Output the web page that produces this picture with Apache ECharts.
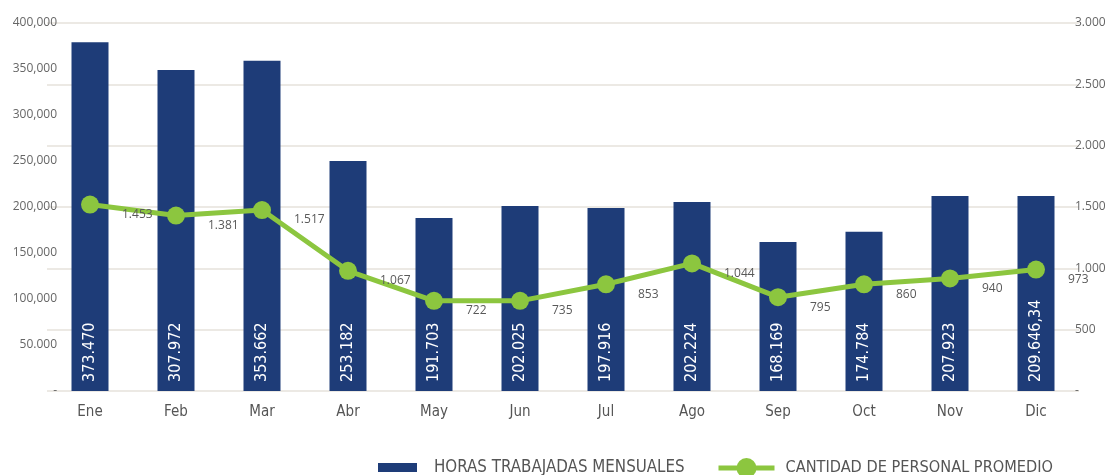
<!DOCTYPE html>
<html>
<head>
<meta charset="utf-8">
<style>
  html, body { margin: 0; padding: 0; background: #fff; }
  #chart { width: 1111px; height: 475px; }
</style>
<script src="https://cdn.jsdelivr.net/npm/echarts@6/dist/echarts.min.js"></script>
</head>
<body>
<div id="chart"></div>
<script>
// meses
const categories = ['Ene', 'Feb', 'Mar', 'Abr', 'May', 'Jun', 'Jul', 'Ago', 'Sep', 'Oct', 'Nov', 'Dic']

// alturas de las barras (eje izquierdo)
const horasValues = [379000, 349000, 359000, 250000, 188000, 201000, 199000, 205500, 162000, 173000, 212000, 212000]
// textos que aparecen dentro de las barras
const horasLabels = ['373.470', '307.972', '353.662', '253.182', '191.703', '202.025', '197.916', '202.224', '168.169', '174.784', '207.923', '209.646,34']

// puntos de la linea (eje derecho)
const personalValues = [1520, 1430, 1475, 980, 735, 735, 870, 1040, 765, 870, 918, 990]
// textos junto a los puntos
const personalLabels = ['1.453', '1.381', '1.517', '1.067', '722', '735', '853', '1.044', '795', '860', '940', '973']

// etiquetas de los ejes
const leftTicks = ['-', '50.000', '100,000', '150,000', '200,000', '250,000', '300,000', '350,000', '400,000']
const rightTicks = ['-', '500', '1.000', '1.500', '2.000', '2.500', '3.000']

const BAR_COLOR = '#1e3c78'
const LINE_COLOR = '#8cc63f'
// fuente condensada: DejaVu Sans con font-stretch condensed
const NARROW = '"DejaVu Sans", sans-serif'
const CONDENSED = 'condensed'
const SANS = '"Open Sans", "Noto Sans", sans-serif'

const chart = echarts.init(document.getElementById('chart'), null, { renderer: 'canvas' })

chart.setOption({
  animation: false,
  backgroundColor: '#fff',
  grid: { left: 47, right: 32, top: 23, bottom: 84 },
  legend: [
    {
      left: 373,
      top: 454,
      textStyle: { fontFamily: NARROW, fontWeight: CONDENSED, fontSize: 16.8, color: '#555', padding: [0, 0, 0, 12] },
      data: [{ name: 'HORAS TRABAJADAS MENSUALES', icon: 'rect', itemStyle: { color: BAR_COLOR } }],
      itemWidth: 39,
      itemHeight: 9,
    },
    {
      left: 711,
      top: 453,
      textStyle: { fontFamily: NARROW, fontWeight: CONDENSED, fontSize: 16.2, color: '#555', padding: [0, 0, 0, 6] },
      data: [{ name: 'CANTIDAD DE PERSONAL PROMEDIO' }],
      itemWidth: 56,
      itemHeight: 25,
      lineStyle: { width: 5 },
    },
  ],
  xAxis: {
    type: 'category',
    data: categories,
    axisLine: { show: false },
    axisTick: { show: false },
    axisLabel: { margin: 14, fontFamily: NARROW, fontWeight: CONDENSED, fontSize: 15, color: '#555' },
  },
  yAxis: [
    {
      type: 'value',
      min: 0,
      max: 400000,
      interval: 50000,
      axisLine: { show: false },
      axisTick: { show: false },
      splitLine: { show: false },
      axisLabel: {
        margin: -10,
        fontFamily: SANS,
        fontSize: 12,
        color: '#666',
        formatter: v => leftTicks[Math.round(v / 50000)],
      },
    },
    {
      type: 'value',
      min: 0,
      max: 3000,
      interval: 500,
      axisLine: { show: false },
      axisTick: { show: false },
      splitLine: { show: true, lineStyle: { color: '#ece9e4', width: 2 } },
      axisLabel: {
        margin: -4,
        fontFamily: SANS,
        fontSize: 12,
        color: '#666',
        formatter: v => rightTicks[Math.round(v / 500)],
      },
    },
  ],
  series: [
    {
      name: 'HORAS TRABAJADAS MENSUALES',
      type: 'bar',
      yAxisIndex: 0,
      barWidth: 37,
      data: horasValues,
      itemStyle: { color: BAR_COLOR },
      label: {
        show: true,
        position: 'insideBottom',
        rotate: 90,
        align: 'left',
        verticalAlign: 'middle',
        distance: 9,
        color: '#fff',
        fontFamily: NARROW,
        fontWeight: CONDENSED,
        fontSize: 16,
        formatter: p => horasLabels[p.dataIndex],
      },
    },
    {
      name: 'CANTIDAD DE PERSONAL PROMEDIO',
      type: 'line',
      yAxisIndex: 1,
      data: personalValues,
      symbol: 'circle',
      symbolSize: 18,
      lineStyle: { color: LINE_COLOR, width: 5 },
      itemStyle: { color: LINE_COLOR },
      label: {
        show: true,
        position: 'right',
        offset: [18, 10],
        color: '#595959',
        fontFamily: SANS,
        fontSize: 12,
        formatter: p => personalLabels[p.dataIndex],
      },
    },
  ],
})
</script>
</body>
</html>
